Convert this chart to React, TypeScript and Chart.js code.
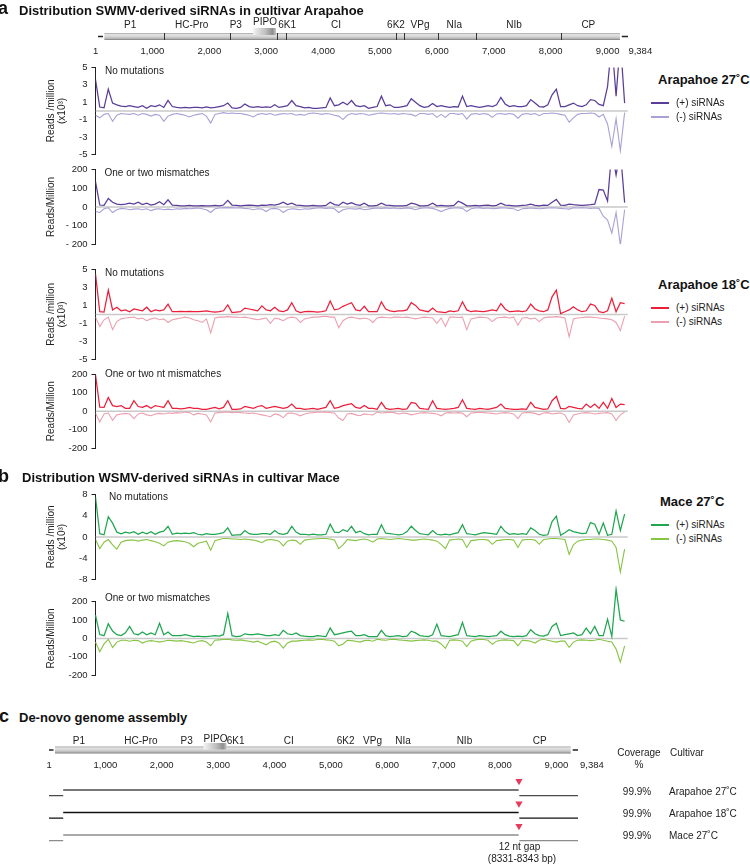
import React, { useEffect, useRef } from "react";
import { Chart, registerables } from "chart.js";
Chart.register(...registerables);

const FONT = '"Liberation Sans", Arial, Helvetica, sans-serif';
const GENOME_LEN = 9384;
const BIN = 75;

// ---------- genome maps ----------
const genomeTicks = [1, 1000, 2000, 3000, 4000, 5000, 6000, 7000, 8000, 9000, 9384];
const proteins = ["P1", "HC-Pro", "P3", "PIPO", "6K1", "CI", "6K2", "VPg", "NIa", "NIb", "CP"];
const proteinLabelPosA = [608, 1691, 2465, 2980, 3367, 4227, 5282, 5704, 6307, 7357, 8662];
const proteinLabelPosC = [532, 1632, 2443, 2954, 3310, 4252, 5263, 5739, 6282, 7369, 8703];
const cistronBoundsA = [1209, 2364, 3185, 3348, 5276, 5427, 6014, 6687, 8181];
const cistronBoundsC: number[] = [];
const orfA = [156, 9218];
const orfC = [106, 9255];
const pipoA = [2768, 3172];
const pipoC = [2741, 3149];
const utr5A = [44, 132];
const utr3A = [9250, 9360];
const utr5C = [0, 80];
const utr3C = [9290, 9384];

// ---------- siRNA profiles (Arapahoe 27C) ----------
const a27NoMutPlus = [
  3.6, 0.45, 0.35, 2.5, 0.9, 0.7, 0.55, 0.5, 0.6, 0.5,
  0.4, 0.6, 0.3, 0.6, 0.5, 0.7, 0.4, 1.2, 0.5, 0.4,
  0.35, 0.4, 0.35, 0.4, 0.4, 0.35, 0.45, 0.35, 0.4, 0.5,
  0.6, 0.9, 0.35, 0.3, 0.4, 0.8, 0.5, 0.4, 0.5, 0.4,
  0.45, 0.4, 0.7, 0.4, 0.5, 0.6, 1.2, 0.6, 0.5, 0.35,
  0.4, 0.3, 0.3, 0.35, 0.4, 1.5, 0.6, 0.7, 1.0, 0.7,
  1.2, 0.6, 0.5, 0.6, 0.3, 0.4, 0.5, 1.7, 0.6, 0.7,
  0.4, 0.4, 0.5, 0.6, 1.4, 1.0, 0.6, 0.4, 0.5, 0.85,
  0.5, 0.6, 0.5, 0.4, 0.5, 0.45, 1.7, 0.5, 0.6, 0.5,
  0.4, 0.5, 0.6, 0.5, 0.7, 1.55, 0.8, 0.5, 0.6, 0.5,
  0.5, 0.6, 1.3, 0.9, 0.5, 0.45, 0.7, 1.85, 2.5, 0.5,
  0.5, 0.7, 0.9, 0.6, 0.5, 0.7, 1.3, 1.2, 0.75, 0.6,
  2.8, 8, 1.7, 8, 0.9,
];
const a27NoMutMinus = [
  -0.5, -0.8, -0.4, -0.3, -1.2, -0.5, -0.3, -0.35, -0.4, -0.3,
  -0.5, -0.3, -0.4, -0.6, -0.4, -0.5, -1.2, -0.6, -0.4, -0.3,
  -0.4, -0.5, -0.7, -0.5, -0.4, -0.3, -0.6, -1.4, -0.4, -0.3,
  -0.2, -0.3, -0.25, -0.3, -0.3, -0.4, -0.5, -0.7, -0.4, -0.3,
  -0.4, -0.3, -0.5, -0.4, -0.3, -0.35, -0.3, -0.5, -0.4, -0.5,
  -0.3, -0.25, -0.3, -0.4, -0.3, -0.35, -0.5, -0.6, -1.0, -0.5,
  -0.3, -0.4, -0.3, -0.35, -0.5, -0.4, -0.3, -0.25, -0.3, -0.35,
  -0.3, -0.4, -0.3, -0.35, -0.4, -0.6, -0.3, -0.3, -0.4, -0.3,
  -0.75, -0.4, -0.75, -0.3, -0.3, -0.4, -0.3, -0.95, -0.4, -0.3,
  -0.4, -0.3, -0.4, -0.75, -0.35, -0.3, -0.4, -0.3, -0.4, -0.85,
  -0.4, -0.3, -0.4, -0.3, -0.55, -0.3, -0.3, -0.25, -0.3, -0.4,
  -0.5, -1.3, -0.8, -0.4, -0.3, -0.3, -0.25, -0.3, -0.7, -0.4,
  -1.5, -4.1, -0.9, -4.6, -0.2,
];
const a27MisPlus = [
  135, 10, 8, 45, 25, 15, 12, 15, 20, 15,
  25, 12, 20, 10, 15, 28, 12, 38, 10, 8,
  6, 5, 8, 6, 5, 7, 6, 5, 8, 6,
  10, 35, 10, 8, 6, 8, 10, 8, 6, 10,
  8, 12, 10, 15, 25, 12, 20, 10, 8, 6,
  5, 8, 5, 6, 8, 25, 12, 8, 25, 15,
  22, 12, 8, 20, 6, 5, 8, 20, 10, 8,
  5, 6, 5, 8, 20, 15, 6, 5, 8, 20,
  6, 8, 5, 6, 8, 30, 20, 6, 5, 8,
  6, 8, 10, 6, 8, 20, 10, 8, 5, 6,
  8, 10, 15, 8, 6, 10, 8, 25, 40, 10,
  8, 15, 12, 10, 8, 10, 12, 15, 93, 90,
  32, 300, 170, 300, 23,
];
const a27MisMinus = [
  -25, -30, -10, -5, -30, -15, -8, -10, -15, -12,
  -10, -15, -10, -20, -12, -10, -15, -12, -15, -10,
  -12, -8, -10, -8, -6, -10, -15, -30, -10, -6,
  -5, -4, -5, -6, -5, -8, -10, -15, -10, -12,
  -25, -10, -8, -12, -30, -15, -10, -12, -15, -10,
  -12, -8, -6, -5, -8, -6, -10, -30, -15, -10,
  -10, -12, -8, -15, -12, -8, -6, -8, -5, -8,
  -6, -10, -8, -5, -8, -15, -8, -6, -5, -8,
  -15, -25, -15, -8, -6, -5, -8, -25, -10, -6,
  -5, -8, -6, -10, -8, -5, -6, -8, -10, -20,
  -10, -8, -6, -8, -10, -8, -6, -5, -6, -8,
  -10, -12, -5, -6, -5, -6, -8, -6, -8, -50,
  -70, -140, -30, -205, -15,
];

// ---------- Arapahoe 18C ----------
const a18NoMutPlus = [
  4.5, 0.3, 0.25, 2.7, 0.5, 0.8, 0.4, 0.5, 0.3, 0.6,
  0.5, 0.4, 0.8, 0.3, 0.5, 0.4, 0.5, 1.15, 0.3, 0.3,
  0.35, 0.3, 0.35, 0.3, 0.3, 0.35, 0.4, 0.3, 0.25, 0.3,
  0.4, 1.05, 0.2, 0.25, 0.3, 0.7, 0.6, 0.5, 0.4, 0.95,
  0.5, 0.4, 0.8, 0.4, 0.3, 0.5, 1.3, 0.4, 0.2, 0.3,
  0.35, 0.3, 0.25, 0.3, 0.4, 1.5, 0.5, 0.6, 0.9, 1.1,
  1.3, 0.5, 0.4, 0.9, 0.3, 0.3, 0.3, 1.4, 0.6, 0.4,
  0.3, 0.4, 0.4, 0.5, 1.3, 1.0, 0.5, 0.4, 0.3, 0.7,
  0.3, 0.25, 0.2, 0.4, 0.3, 0.4, 1.4, 0.5, 0.3, 0.4,
  0.35, 0.3, 0.4, 0.5, 0.4, 1.2, 0.6, 0.3, 0.35, 0.4,
  0.3, 0.4, 1.15, 0.6, 0.4, 0.3, 0.5, 1.95, 2.7, 0.1,
  0.3, 0.5, 0.85, 0.5, 0.3, 0.4, 1.15, 1.0, 0.3, 0.2,
  0.4, 1.8, 0.3, 1.3, 1.2,
];
const a18NoMutMinus = [
  -0.3, -1.35, -0.6, -0.3, -1.7, -0.8, -0.5, -0.4, -0.35, -0.3,
  -0.5, -0.4, -0.7, -0.5, -0.4, -0.6, -0.5, -0.9, -0.6, -0.5,
  -0.4, -0.3, -0.4, -0.6, -0.7, -0.9, -0.5, -2.05, -0.4, -0.3,
  -0.3, -0.25, -0.3, -0.3, -0.35, -0.3, -0.4, -0.5, -0.6, -0.5,
  -0.4, -1.0, -0.4, -0.5, -0.7, -0.4, -0.3, -0.4, -0.9, -0.5,
  -0.4, -0.3, -0.3, -0.25, -0.2, -0.3, -0.3, -1.5, -0.7, -0.4,
  -0.3, -0.4, -0.5, -0.4, -0.5, -0.9, -0.4, -0.3, -0.35, -0.4,
  -0.3, -0.3, -0.35, -0.3, -0.4, -0.5, -0.4, -0.3, -0.35, -0.4,
  -1.0, -0.4, -1.35, -0.3, -0.3, -0.35, -0.3, -1.7, -0.5, -0.4,
  -0.3, -0.35, -0.4, -0.8, -0.4, -0.35, -0.3, -0.4, -0.3, -1.2,
  -0.4, -0.35, -0.5, -0.4, -0.8, -0.4, -0.3, -0.3, -0.25, -0.3,
  -0.4, -2.5, -0.5, -0.4, -0.35, -0.3, -0.3, -0.35, -0.4, -0.45,
  -0.5, -0.6, -0.9, -1.8, -0.2,
];
const a18MisPlus = [
  195, 21, 20, 74, 30, 25, 30, 15, 15, 56,
  25, 20, 30, 15, 30, 25, 20, 56, 15, 15,
  12, 15, 20, 15, 15, 10, 10, 15, 20, 12,
  20, 56, 10, 10, 12, 25, 20, 15, 25, 30,
  15, 20, 25, 20, 15, 20, 38, 15, 15, 10,
  12, 15, 10, 15, 20, 56, 15, 20, 30, 35,
  40, 20, 15, 30, 15, 15, 10, 47, 15, 10,
  12, 15, 10, 12, 47, 42, 15, 12, 10, 56,
  15, 12, 10, 12, 15, 20, 61, 15, 12, 10,
  15, 12, 10, 15, 20, 38, 15, 12, 10, 10,
  12, 10, 47, 20, 15, 10, 12, 56, 79, 15,
  12, 25, 20, 15, 12, 38, 20, 38, 15, 47,
  15, 68, 20, 38, 35,
];
const a18MisMinus = [
  -10, -58, -15, -10, -49, -20, -15, -12, -15, -40,
  -15, -10, -20, -25, -15, -12, -15, -10, -12, -8,
  -10, -5, -8, -20, -12, -15, -20, -58, -10, -8,
  -6, -5, -8, -6, -8, -10, -12, -10, -15, -20,
  -25, -30, -15, -20, -35, -12, -10, -15, -25, -15,
  -10, -8, -5, -6, -5, -8, -10, -37, -50, -15,
  -12, -20, -25, -15, -18, -20, -5, -10, -8, -6,
  -8, -15, -10, -12, -20, -15, -10, -8, -10, -12,
  -15, -25, -10, -8, -10, -8, -10, -30, -10, -8,
  -6, -8, -10, -12, -15, -10, -8, -10, -15, -40,
  -10, -8, -8, -12, -20, -10, -8, -15, -12, -10,
  -20, -61, -20, -15, -10, -8, -10, -15, -12, -10,
  -8, -15, -49, -20, -5,
];

// ---------- Mace 27C ----------
const maceNoMutPlus = [
  7.5, 0.6, 0.4, 3.8, 2.6, 0.9, 0.6, 0.9, 0.7, 1.0,
  0.5, 0.9, 0.6, 1.0, 0.5, 0.9, 1.1, 2.0, 0.5, 0.7,
  0.6, 0.7, 0.6, 0.8, 0.5, 0.4, 0.6, 0.5, 0.5, 0.6,
  0.8, 1.7, 0.3, 0.4, 0.4, 1.2, 0.6, 0.5, 0.5, 0.6,
  0.6, 0.5, 1.2, 0.6, 0.5, 0.7, 2.0, 0.9, 0.5, 0.5,
  0.4, 0.5, 0.4, 0.4, 0.5, 2.4, 0.9, 0.8, 1.35, 1.0,
  2.0, 0.8, 1.1, 0.6, 0.4, 0.5, 0.5, 2.3, 0.7, 0.6,
  0.5, 0.4, 0.5, 1.0, 2.0, 1.2, 0.6, 0.5, 0.4, 1.2,
  0.5, 0.4, 0.5, 0.4, 0.6, 0.8, 2.3, 0.6, 0.5, 0.4,
  0.6, 0.8, 0.7, 0.6, 0.5, 2.0, 1.0, 0.5, 0.6, 0.5,
  0.6, 0.5, 1.7, 1.2, 0.5, 0.3, 0.4, 2.9, 3.9, 0.3,
  0.8, 1.35, 1.0, 0.8, 0.6, 0.7, 2.7, 2.4, 0.5, 2.6,
  0.3, 0.5, 4.9, 1.2, 4.3,
];
const maceNoMutMinus = [
  -0.5, -2.2, -1.0, -0.5, -1.5, -2.3, -1.0, -0.7, -0.6, -0.6,
  -0.8, -0.6, -0.5, -0.7, -0.9, -1.2, -1.7, -1.0, -0.8, -0.7,
  -0.8, -0.9, -1.2, -1.85, -1.2, -1.0, -0.8, -2.5, -0.7, -0.5,
  -0.3, -0.3, -0.4, -0.4, -0.5, -0.4, -0.5, -0.6, -0.8, -1.1,
  -0.6, -0.5, -0.6, -0.8, -1.7, -0.8, -0.6, -0.7, -1.4, -0.6,
  -0.5, -0.4, -0.35, -0.3, -0.3, -0.4, -0.6, -2.2, -1.5, -0.5,
  -0.6, -0.7, -0.5, -0.4, -0.6, -1.0, -0.4, -0.3, -0.4, -0.5,
  -0.4, -0.3, -0.4, -0.5, -0.6, -0.6, -0.5, -0.4, -0.5, -0.6,
  -0.8, -1.4, -2.2, -0.6, -0.5, -0.4, -0.5, -2.0, -0.7, -0.6,
  -0.5, -0.5, -0.6, -1.4, -0.7, -0.6, -0.5, -0.5, -0.6, -2.0,
  -0.6, -0.5, -0.5, -0.6, -1.4, -0.5, -0.4, -0.3, -0.3, -0.4,
  -0.5, -3.3, -1.5, -0.8, -0.6, -0.5, -0.5, -0.4, -0.4, -0.5,
  -0.6, -0.8, -2.0, -6.6, -2.3,
];
const maceMisPlus = [
  126, 21, 15, 79, 40, 20, 15, 30, 65, 25,
  20, 35, 20, 30, 20, 82, 20, 35, 15, 15,
  15, 20, 15, 10, 12, 10, 10, 12, 15, 12,
  20, 135, 15, 10, 12, 25, 20, 20, 25, 20,
  15, 15, 20, 15, 44, 25, 20, 30, 15, 12,
  10, 10, 15, 12, 10, 56, 20, 25, 30, 35,
  39, 15, 15, 20, 10, 10, 10, 44, 15, 10,
  12, 15, 10, 12, 39, 30, 15, 12, 10, 20,
  77, 15, 12, 10, 15, 20, 86, 15, 12, 10,
  15, 12, 10, 12, 15, 39, 20, 12, 10, 12,
  10, 15, 47, 25, 15, 12, 20, 65, 82, 15,
  20, 25, 30, 15, 20, 56, 25, 65, 15, 15,
  104, 10, 267, 100, 93,
];
const maceMisMinus = [
  -20, -72, -30, -5, -49, -20, -10, -10, -15, -10,
  -12, -25, -15, -12, -15, -20, -15, -10, -12, -15,
  -12, -15, -20, -25, -15, -12, -20, -40, -10, -8,
  -6, -5, -8, -10, -8, -12, -15, -20, -15, -25,
  -35, -20, -15, -25, -53, -25, -15, -15, -12, -10,
  -8, -10, -6, -5, -8, -10, -15, -40, -30, -10,
  -12, -15, -20, -12, -10, -15, -5, -8, -10, -6,
  -5, -8, -10, -12, -15, -12, -10, -8, -10, -15,
  -15, -30, -54, -10, -8, -10, -15, -44, -15, -8,
  -5, -6, -10, -32, -15, -10, -8, -10, -12, -40,
  -10, -12, -15, -25, -10, -5, -10, -15, -20, -15,
  -15, -49, -20, -10, -8, -10, -12, -10, -5, -10,
  -15, -19, -58, -128, -40,
];

// ---------- assembly ----------
const assemblyCultivars = ["Arapahoe 27˚C", "Arapahoe 18˚C", "Mace 27˚C"];
const assemblyCoverage = ["99.9%", "99.9%", "99.9%"];
const assemblyColors = ["#4a4a4a", "#111111", "#8c8c8c"];
const contigStart = 252;
const gapRange = [8331, 8343];

const ticksUnits5 = [-5, -3, -1, 1, 3, 5];
const ticksUnits8 = [-8, -4, 0, 4, 8];
const ticks200 = [-200, -100, 0, 100, 200];

const fmtNum = (v: number) => v.toLocaleString("en-US");

// ---------- line panel ----------
function LinePanel(props: any) {
  const ref = useRef<HTMLCanvasElement>(null);
  const { top, bottom, min, max, ticks, fmt, plus, minus, plusColor, minusColor, title, clip } = props;
  const canvasTop = Math.round(top - 16);
  const padT = top - canvasTop;
  const h = Math.ceil(bottom + 8 - canvasTop);
  const padB = h - (bottom - canvasTop);
  useEffect(() => {
    const toPts = (arr: number[]) => arr.map((v, i) => ({ x: i * BIN, y: v }));
    const clipOpt = clip === false ? { clip: false } : {};
    const chart = new Chart(ref.current as HTMLCanvasElement, {
      type: "line",
      data: {
        datasets: [
          { data: toPts(plus), borderColor: plusColor, borderWidth: 1.25, pointRadius: 0, tension: 0, ...clipOpt } as any,
          { data: toPts(minus), borderColor: minusColor, borderWidth: 1.1, pointRadius: 0, tension: 0, ...clipOpt } as any,
          { data: [{ x: 0, y: 0 }, { x: GENOME_LEN - 30, y: 0 }], borderColor: "#c9c9c9", borderWidth: 1.5, pointRadius: 0 },
        ],
      },
      options: {
        animation: false,
        responsive: false,
        events: [],
        layout: { padding: { top: padT, bottom: padB, left: 0, right: 640 - 629.4 } },
        plugins: { legend: { display: false }, tooltip: { enabled: false } },
        scales: {
          x: { type: "linear", display: false, min: 0, max: GENOME_LEN },
          y: {
            type: "linear",
            min,
            max,
            afterFit: (s: any) => { s.width = 95.5; },
            afterBuildTicks: (s: any) => { s.ticks = ticks.map((v: number) => ({ value: v })); },
            ticks: { callback: (v: any) => fmt(Number(v)), font: { family: FONT, size: 9.5 }, color: "#222", padding: 4, autoSkip: false },
            grid: {
              display: true,
              drawOnChartArea: false,
              drawTicks: true,
              tickLength: 4,
              tickColor: (c: any) => (c.index === 0 || c.index === ticks.length - 1 ? "#222" : "rgba(0,0,0,0)"),
            },
            border: { display: true, color: "#222", width: 1 },
            title: { display: true, text: title, font: { family: FONT, size: 10, lineHeight: 1.1 }, color: "#222", padding: { top: 45.5, bottom: 0 } },
          },
        },
      },
    } as any);
    return () => chart.destroy();
  }, []);
  return <canvas ref={ref} width={640} height={h} style={{ position: "absolute", left: 0, top: canvasTop }} />;
}

// ---------- genome map plugin ----------
function genomePlugin(cfg: any) {
  return {
    id: "genomeMap",
    afterDraw(chart: any) {
      const ctx = chart.ctx;
      const xs = chart.scales.x;
      const px = (v: number) => xs.getPixelForValue(v);
      const { barY, barH } = cfg;
      const mid = barY + barH / 2;
      ctx.save();
      ctx.strokeStyle = "#222";
      ctx.lineWidth = 1.5;
      ctx.beginPath();
      ctx.moveTo(px(cfg.utr5[0]), mid);
      ctx.lineTo(px(cfg.utr5[1]), mid);
      ctx.moveTo(px(cfg.utr3[0]), mid);
      ctx.lineTo(px(cfg.utr3[1]), mid);
      ctx.stroke();
      const g = ctx.createLinearGradient(0, barY, 0, barY + barH);
      g.addColorStop(0, "#9c9c9c");
      g.addColorStop(0.2, "#e2e2e2");
      g.addColorStop(0.5, "#d6d6d6");
      g.addColorStop(0.8, "#b4b4b4");
      g.addColorStop(1, "#7a7a7a");
      ctx.fillStyle = g;
      ctx.fillRect(px(cfg.orf[0]), barY, px(cfg.orf[1]) - px(cfg.orf[0]), barH);
      ctx.strokeStyle = "#333";
      ctx.lineWidth = 1;
      ctx.beginPath();
      cfg.bounds.forEach((b: number) => {
        const x = Math.round(px(b)) + 0.5;
        ctx.moveTo(x, barY);
        ctx.lineTo(x, barY + barH);
      });
      ctx.stroke();
      const x0 = px(cfg.pipo[0]);
      const x1 = px(cfg.pipo[1]);
      const pg = ctx.createLinearGradient(x0, 0, x1, 0);
      pg.addColorStop(0, "#f4f4f4");
      pg.addColorStop(0.55, "#bdbdbd");
      pg.addColorStop(0.85, "#8e8e8e");
      pg.addColorStop(1, "#c4c4c4");
      ctx.fillStyle = pg;
      ctx.fillRect(x0, cfg.pipoY, x1 - x0, cfg.pipoH);
      ctx.fillStyle = "#222";
      ctx.font = `10px ${FONT}`;
      ctx.textAlign = "center";
      ctx.textBaseline = "middle";
      proteins.forEach((p, i) => {
        ctx.fillText(p, px(cfg.labelPos[i]), p === "PIPO" ? cfg.pipoLabelY : cfg.labelY);
      });
      ctx.font = `9.5px ${FONT}`;
      genomeTicks.forEach((t, i) => {
        const last = i === genomeTicks.length - 1;
        ctx.textAlign = last ? "left" : "center";
        ctx.fillText(fmtNum(t), px(t) + (last ? cfg.lastShift : 0), cfg.tickY);
      });
      ctx.restore();
    },
  };
}

function GenomeMapTop() {
  const ref = useRef<HTMLCanvasElement>(null);
  useEffect(() => {
    const chart = new Chart(ref.current as HTMLCanvasElement, {
      type: "scatter",
      data: { datasets: [] },
      options: {
        animation: false,
        responsive: false,
        events: [],
        layout: { padding: { left: 95.5, right: 700 - 629.4, top: 0, bottom: 0 } },
        plugins: { legend: { display: false }, tooltip: { enabled: false } },
        scales: {
          x: { type: "linear", display: false, min: 0, max: GENOME_LEN },
          y: { type: "linear", display: false, min: 0, max: 1 },
        },
      },
      plugins: [
        genomePlugin({
          barY: 19, barH: 7, utr5: utr5A, utr3: utr3A, orf: orfA, bounds: cistronBoundsA,
          pipo: pipoA, pipoY: 14, pipoH: 7, labelPos: proteinLabelPosA, labelY: 11.3, pipoLabelY: 8.5,
          tickY: 37.3, lastShift: -1,
        }),
      ],
    } as any);
    return () => chart.destroy();
  }, []);
  return <canvas ref={ref} width={700} height={46} style={{ position: "absolute", left: 0, top: 14 }} />;
}

function AssemblyChart() {
  const ref = useRef<HTMLCanvasElement>(null);
  useEffect(() => {
    const ds: any[] = [];
    assemblyColors.forEach((c, k) => {
      const r = k + 1;
      const base = { borderColor: c, borderWidth: 1.4, pointRadius: 0, tension: 0 };
      ds.push({ ...base, data: [{ x: 0, y: r + 0.25 }, { x: contigStart, y: r + 0.25 }] });
      ds.push({ ...base, data: [{ x: contigStart, y: r }, { x: gapRange[0], y: r }] });
      ds.push({ ...base, data: [{ x: gapRange[1], y: r + 0.25 }, { x: GENOME_LEN, y: r + 0.25 }] });
      ds.push({
        data: [{ x: (gapRange[0] + gapRange[1]) / 2, y: r - 0.4 }],
        showLine: false, pointStyle: "triangle", pointRotation: 180, pointRadius: 4.2,
        pointBackgroundColor: "#e83a5c", pointBorderWidth: 0, borderColor: "#e83a5c",
      });
    });
    const chart = new Chart(ref.current as HTMLCanvasElement, {
      type: "line",
      data: { datasets: ds },
      options: {
        animation: false,
        responsive: false,
        events: [],
        layout: { padding: { left: 49, right: 640 - 578, top: 37.5, bottom: 7.5 } },
        plugins: { legend: { display: false }, tooltip: { enabled: false } },
        scales: {
          x: { type: "linear", display: false, min: 0, max: GENOME_LEN },
          y: { type: "linear", display: false, min: 0, max: 4, reverse: true },
        },
      },
      plugins: [
        genomePlugin({
          barY: 16.5, barH: 7, utr5: utr5C, utr3: utr3C, orf: orfC, bounds: cistronBoundsC,
          pipo: pipoC, pipoY: 13, pipoH: 6.5, labelPos: proteinLabelPosC, labelY: 11.7, pipoLabelY: 9.3,
          tickY: 35, lastShift: 2,
        }),
      ],
    } as any);
    return () => chart.destroy();
  }, []);
  return <canvas ref={ref} width={640} height={135} style={{ position: "absolute", left: 0, top: 730 }} />;
}

// ---------- text helpers ----------
function Txt({ x, y, children, size = 10, bold = false, align = "left", color = "#222" }: any) {
  const tx = align === "center" ? "-50%" : align === "right" ? "-100%" : "0";
  return (
    <div
      style={{
        position: "absolute", left: x, top: y, transform: `translate(${tx}, -50%)`,
        fontFamily: FONT, fontSize: size, fontWeight: bold ? 700 : 400, lineHeight: 1,
        whiteSpace: "nowrap", color,
      }}
    >
      {children}
    </div>
  );
}

function Legend({ y, title, plusColor, minusColor, x = 658 }: any) {
  return (
    <>
      <Txt x={x} y={y} size={13} bold color="#111">{title}</Txt>
      <div style={{ position: "absolute", left: 651, top: y + 23, width: 18, height: 2, background: plusColor }} />
      <Txt x={676} y={y + 24} size={10}>(+) siRNAs</Txt>
      <div style={{ position: "absolute", left: 651, top: y + 37, width: 18, height: 2, background: minusColor }} />
      <Txt x={676} y={y + 38} size={10}>(-) siRNAs</Txt>
    </>
  );
}

const PURPLE = "#5a3d99";
const LAVENDER = "#aaa0d6";
const RED = "#ec1f3b";
const PINK = "#eba0b0";
const GREEN = "#1fa64f";
const LIME = "#86c443";

const fmtSimple = (v: number) => String(v);
const fmtSpaced = (v: number) => (v < 0 ? "- " + Math.abs(v) : String(v));

export default function App() {
  return (
    <div style={{ position: "absolute", left: 0, top: 0, width: 750, height: 865, background: "#fff", overflow: "hidden" }}>
      <GenomeMapTop />
      <LinePanel top={67.5} bottom={155.5} min={-5} max={5} ticks={ticksUnits5} fmt={fmtSimple}
        plus={a27NoMutPlus} minus={a27NoMutMinus} plusColor={PURPLE} minusColor={LAVENDER}
        title={["Reads /million", "(x10³)"]} />
      <LinePanel top={169.5} bottom={246} min={-200} max={200} ticks={ticks200} fmt={fmtSpaced}
        plus={a27MisPlus} minus={a27MisMinus} plusColor={PURPLE} minusColor={LAVENDER}
        title="Reads/Million" />
      <LinePanel top={269.5} bottom={360.5} min={-5} max={5} ticks={ticksUnits5} fmt={fmtSimple}
        plus={a18NoMutPlus} minus={a18NoMutMinus} plusColor={RED} minusColor={PINK}
        title={["Reads /million", "(x10³)"]} />
      <LinePanel top={374} bottom={450} min={-200} max={200} ticks={ticks200} fmt={fmtSimple}
        plus={a18MisPlus} minus={a18MisMinus} plusColor={RED} minusColor={PINK}
        title="Reads/Million" />
      <LinePanel top={494.5} bottom={580.5} min={-8} max={8} ticks={ticksUnits8} fmt={fmtSimple}
        plus={maceNoMutPlus} minus={maceNoMutMinus} plusColor={GREEN} minusColor={LIME}
        title={["Reads /million", "(x10³)"]} />
      <LinePanel top={601.5} bottom={677} min={-200} max={200} ticks={ticks200} fmt={fmtSimple}
        plus={maceMisPlus} minus={maceMisMinus} plusColor={GREEN} minusColor={LIME}
        title="Reads/Million" clip={false} />
      <AssemblyChart />

      <Txt x={-2} y={8} size={18} bold color="#111">a</Txt>
      <Txt x={19} y={9.5} size={13} bold color="#111">Distribution SWMV-derived siRNAs in cultivar Arapahoe</Txt>
      <Txt x={-2} y={476} size={18} bold color="#111">b</Txt>
      <Txt x={22} y={477} size={13} bold color="#111">Distribution WSMV-derived siRNAs in cultivar Mace</Txt>
      <Txt x={-1} y={716} size={18} bold color="#111">c</Txt>
      <Txt x={19} y={717} size={13} bold color="#111">De-novo genome assembly</Txt>

      <Txt x={105} y={71}>No mutations</Txt>
      <Txt x={104.5} y={172.7}>One or two mismatches</Txt>
      <Txt x={105} y={273}>No mutations</Txt>
      <Txt x={105} y={374.3}>One or two nt mismatches</Txt>
      <Txt x={109} y={497.3}>No mutations</Txt>
      <Txt x={105} y={598.3}>One or two mismatches</Txt>

      <Legend y={79} title="Arapahoe 27˚C" plusColor={PURPLE} minusColor={LAVENDER} />
      <Legend y={284} title="Arapahoe 18˚C" plusColor={RED} minusColor={PINK} />
      <Legend y={501} x={660} title="Mace 27˚C" plusColor={GREEN} minusColor={LIME} />

      <Txt x={639} y={753} align="center">Coverage</Txt>
      <Txt x={639} y={765} align="center">%</Txt>
      <Txt x={670} y={753}>Cultivar</Txt>
      {assemblyCultivars.map((c, k) => (
        <React.Fragment key={c}>
          <Txt x={637} y={[791.7, 813.5, 836][k]} align="center">{assemblyCoverage[k]}</Txt>
          <Txt x={669} y={[791.7, 813.5, 836][k]}>{c}</Txt>
        </React.Fragment>
      ))}
      <Txt x={519.5} y={846.7} align="center">12 nt gap</Txt>
      <Txt x={522} y={859} align="center">(8331-8343 bp)</Txt>
    </div>
  );
}
